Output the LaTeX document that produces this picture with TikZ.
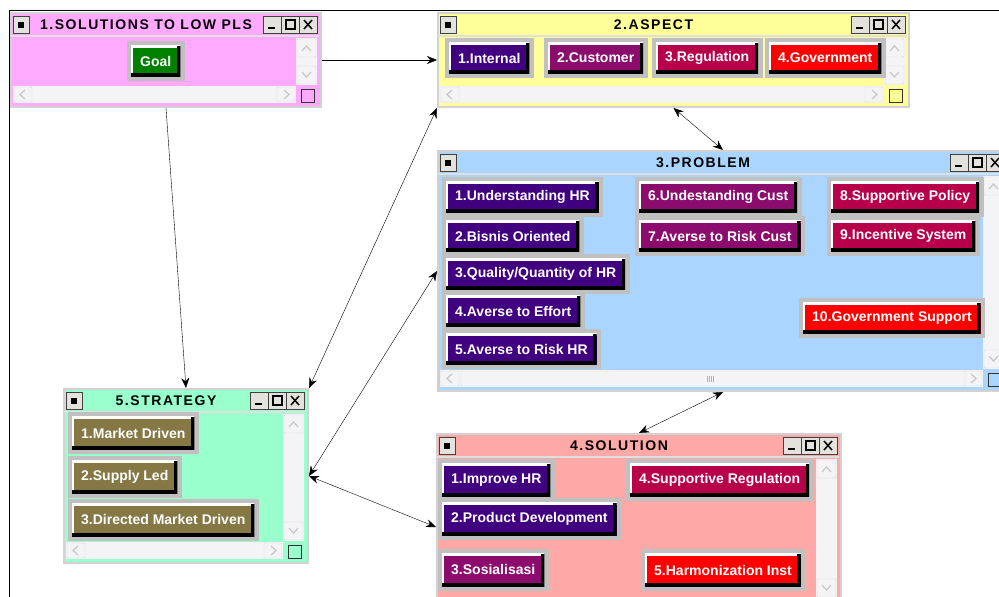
\documentclass[tikz,border=0pt]{standalone}
\usepackage{fontspec}
\setmainfont{Liberation Sans}
\newfontfamily\titlefamily{Liberation Sans}[LetterSpace=11]
\usetikzlibrary{arrows.meta}

\definecolor{pinkwin}{HTML}{FFAAFF}
\definecolor{yellowwin}{HTML}{FFFF99}
\definecolor{bluewin}{HTML}{AAD5FF}
\definecolor{salmonwin}{HTML}{FFA8A8}
\definecolor{mintwin}{HTML}{99FFCC}
\definecolor{indigobtn}{HTML}{400080}
\definecolor{plumbtn}{HTML}{8C0C6E}
\definecolor{crimsonbtn}{HTML}{B8004A}
\definecolor{redbtn}{HTML}{FF0000}
\definecolor{olivebtn}{HTML}{857845}
\definecolor{greenbtn}{HTML}{008000}
\definecolor{framegray}{HTML}{C0C0C0}
\definecolor{facegray}{HTML}{E4E2DC}
\definecolor{scrollbg}{HTML}{F4F4F6}

\tikzset{
  winbox/.style={draw=gray!35, line width=2, anchor=north west, inner sep=0},
  wintitle/.style={font=\titlefamily\bfseries\fontsize{14}{16}\selectfont, text=black},
  ctrl/.style={fill=facegray, draw=black!75},
  scrollbox/.style={fill=scrollbg, draw=gray!30, rounded corners=1},
  chevron/.style={draw=gray!45, line width=1.2},
  btn/.style={fill=#1, text=white, anchor=west, font=\bfseries\fontsize{14}{16}\selectfont,
    minimum height=31, inner xsep=9, inner ysep=2,
    preaction={draw=framegray, line width=9},
    path picture={
      \draw[white, line width=4] (path picture bounding box.south west) |- (path picture bounding box.north east);
      \draw[black, line width=7] (path picture bounding box.south west) -| (path picture bounding box.north east);
    }},
  link/.style={thin, -{Stealth[length=10pt, width=8pt]}},
  both/.style={thin, {Stealth[length=10pt, width=8pt]}-{Stealth[length=10pt, width=8pt]}},
}

% window with title bar and scrollbars: name, width, height, colour, title
\newcommand{\drawwindow}[5]{%
  \node[winbox, fill=#4, minimum width=#2, minimum height=#3] (#1) at (0,0) {};
  % title bar controls
  \draw[ctrl] (3,4) rectangle (19,21);
  \fill (8,10) rectangle (14,16);
  \draw[ctrl] (#2-57,4) rectangle (#2-39,21);
  \draw[ctrl] (#2-39,4) rectangle (#2-21,21);
  \draw[ctrl] (#2-21,4) rectangle (#2-3,21);
  \draw[line width=1.5] (#2-52,16) -- (#2-45,16);
  \draw[line width=1.2] (#2-34,8) rectangle (#2-25,17);
  \draw[line width=1.5] (#2-16,8) -- (#2-8,17) (#2-16,17) -- (#2-8,8);
  \draw[gray!25, line width=2] (1,24) -- (#2-1,24);
  \node[wintitle] (#1-title) at ({(#2-38)/2}, 13) {#5};
  % vertical scrollbar
  \fill[scrollbg] (#2-24,26) rectangle (#2-3,#3-21);
  \draw[scrollbox] (#2-23,27) rectangle (#2-4,45);
  \draw[scrollbox] (#2-23,#3-40) rectangle (#2-4,#3-22);
  \draw[chevron] (#2-18,39) -- (#2-13.5,34) -- (#2-9,39);
  \draw[chevron] (#2-18,#3-34) -- (#2-13.5,#3-29) -- (#2-9,#3-34);
  % horizontal scrollbar
  \fill[scrollbg] (3,#3-20) rectangle (#2-24,#3-3);
  \draw[scrollbox] (4,#3-19) rectangle (22,#3-4);
  \draw[scrollbox] (#2-43,#3-19) rectangle (#2-25,#3-4);
  \draw[chevron] (15,#3-16) -- (10,#3-11.5) -- (15,#3-7);
  \draw[chevron] (#2-36,#3-16) -- (#2-31,#3-11.5) -- (#2-36,#3-7);
  \filldraw[fill=#4, draw=black!80] (#2-19,#3-17) rectangle (#2-6,#3-4);
}

\begin{document}
\begin{tikzpicture}[x=1pt, y=-1pt]
    \useasboundingbox (0,0) rectangle (999,597);
    \clip (0,0) rectangle (999,597);

    % outer frame
    \draw[thin] (9,597) -- (9,10) -- (999,10);

    % Window 1
    \begin{scope}[shift={(10,12)}]
        \drawwindow{lowpls}{310}{94}{pinkwin}{1.SOLUTIONS TO LOW PLS}
        \node[btn=greenbtn] (goal) at (121,49) {Goal};
    \end{scope}

    % Window 2
    \begin{scope}[shift={(437,12)}]
        \drawwindow{aspect}{471}{94}{yellowwin}{2.ASPECT}
        \node[btn=indigobtn] (internal) at (12,46) {1.Internal};
        \node[btn=plumbtn] (customer) at (111,46) {2.Customer};
        \node[btn=crimsonbtn] (regulation) at (219,46) {3.Regulation};
        \node[btn=redbtn] (government) at (332,46) {4.Government};
    \end{scope}

    % Window 3
    \begin{scope}[shift={(437,150)}]
        \drawwindow{problem}{570}{240}{bluewin}{3.PROBLEM}
        \draw[scrollbox] (24,221) rectangle (528,236);
        \foreach \k in {0,...,3}
            \draw[gray!60] (270+2*\k,226) -- ++(0,6);
        \node[btn=indigobtn] (underHR) at (9,47) {1.Understanding HR};
        \node[btn=indigobtn] (bisnis) at (9,86) {2.Bisnis Oriented};
        \node[btn=indigobtn] (qualityHR) at (9,124) {3.Quality/Quantity of HR};
        \node[btn=indigobtn] (effort) at (9,161) {4.Averse to Effort};
        \node[btn=indigobtn] (riskHR) at (9,199) {5.Averse to Risk HR};
        \node[btn=plumbtn] (underCust) at (202,47) {6.Undestanding Cust};
        \node[btn=plumbtn] (riskCust) at (202,86) {7.Averse to Risk Cust};
        \node[btn=crimsonbtn] (suppPolicy) at (394,47) {8.Supportive Policy};
        \node[btn=crimsonbtn] (incentive) at (394,86) {9.Incentive System};
        \node[btn=redbtn] (govSupport) at (366,168) {10.Government Support};
    \end{scope}

    % Window 5
    \begin{scope}[shift={(63,388)}]
        \drawwindow{strategy}{244}{174}{mintwin}{5.STRATEGY}
        \node[btn=olivebtn, minimum height=33] (marketDriven) at (9,45) {1.Market Driven};
        \node[btn=olivebtn, minimum height=33] (supplyLed) at (9,89) {2.Supply Led};
        \node[btn=olivebtn, minimum height=33] (directedMarket) at (9,132) {3.Directed Market Driven};
    \end{scope}

    % Window 4
    \begin{scope}[shift={(436,433)}]
        \drawwindow{solution}{404}{186}{salmonwin}{4.SOLUTION}
        \node[btn=indigobtn, minimum height=33] (improveHR) at (6,47) {1.Improve HR};
        \node[btn=indigobtn, minimum height=33] (productDev) at (6,86) {2.Product Development};
        \node[btn=plumbtn, minimum height=33] (sosialisasi) at (6,137) {3.Sosialisasi};
        \node[btn=crimsonbtn, minimum height=33] (suppRegulation) at (194,47) {4.Supportive Regulation};
        \node[btn=redbtn, minimum height=33] (harmonization) at (209,137) {5.Harmonization Inst};
    \end{scope}

    % links between windows
    \draw[link] (lowpls.south) -- (strategy.north);
    \draw[link] (lowpls.east) -- (aspect.west);
    \draw[both] (aspect.south west) -- (strategy.north east);
    \draw[both] (problem.west) -- (strategy.east);
    \draw[both] (strategy.east) -- (solution.west);
    \draw[both] (aspect.south) -- (problem.north);
    \draw[both] (problem.south) -- (solution.north);
\end{tikzpicture}
\end{document}
